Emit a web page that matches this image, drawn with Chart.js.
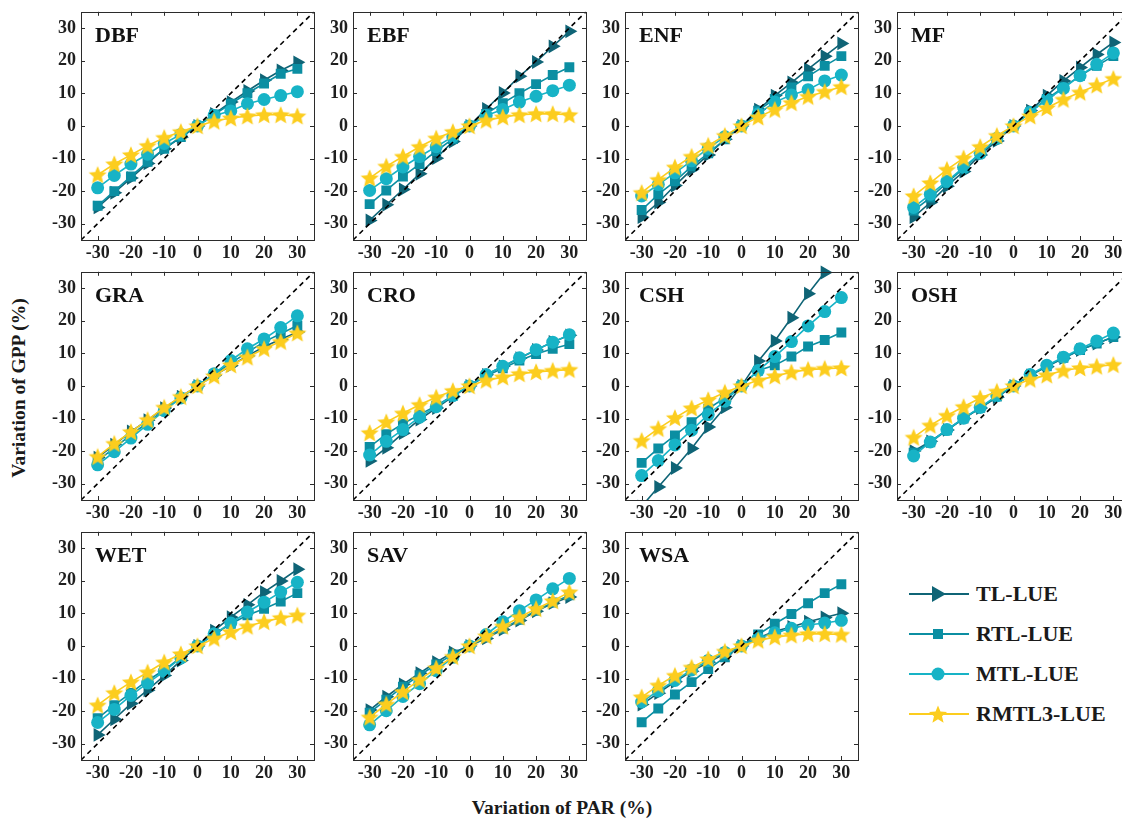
<!DOCTYPE html>
<html><head><meta charset="utf-8">
<script src="https://cdn.jsdelivr.net/npm/chart.js@4.4.1/dist/chart.umd.min.js"></script>
<style>
body{margin:0;background:#fff;width:1122px;height:827px;position:relative;overflow:hidden;font-family:"Liberation Serif","Times New Roman",serif;color:#1a1a1a;}
canvas.p{position:absolute;}
.ylab{position:absolute;left:19px;top:388px;transform:translate(-50%,-50%) rotate(-90deg);font-weight:bold;font-size:19.5px;white-space:nowrap;}
.xlab{position:absolute;left:562px;top:808px;transform:translate(-50%,-50%);font-weight:bold;font-size:19.5px;white-space:nowrap;}
.leg{position:absolute;left:908px;display:flex;align-items:center;font-weight:bold;font-size:22px;white-space:nowrap;}
.leg svg{margin-right:6px;}
</style></head>
<body>
<div class="ylab">Variation of GPP (%)</div>
<div class="xlab">Variation of PAR (%)</div>
<div id="legend"></div>
<script>
// ---- data ----
const xValues = [-30,-25,-20,-15,-10,-5,0,5,10,15,20,25,30];
const xTicks = [-30,-20,-10,0,10,20,30];
const yTicks = [-30,-20,-10,0,10,20,30];
const oneToOne = [-35,35];
const panelNames = ['DBF','EBF','ENF','MF','GRA','CRO','CSH','OSH','WET','SAV','WSA'];
const seriesNames = ['TL-LUE','RTL-LUE','MTL-LUE','RMTL3-LUE'];

const DBF_TL    = [-25,-20.5,-16,-11.5,-7,-3.5,0,3.7,7.3,10.7,14,17,19.5];
const DBF_RTL   = [-24.5,-20,-15.5,-11,-7,-3.4,0,3.5,6.8,10,13,16,17.5];
const DBF_MTL   = [-19,-15.2,-11.7,-8.7,-5.4,-2.6,0,3.2,4.6,6.8,8.1,9.3,10.5];
const DBF_RMTL3 = [-15,-11.7,-8.9,-6.1,-3.6,-1.8,0,1.4,2.4,3,3.4,3.4,3];

const EBF_TL    = [-29,-24.2,-19.5,-14.7,-9.9,-4.8,0,5.2,10.1,15.2,19.6,24.4,29];
const EBF_RTL   = [-24,-19.8,-15.5,-11.7,-7.7,-4,0,3.7,7,10,12.8,15.6,18];
const EBF_MTL   = [-19.8,-16.2,-12.6,-9.4,-6.4,-3.3,0,3.2,5,7.3,9.1,10.8,12.5];
const EBF_RMTL3 = [-16,-12.4,-9.4,-6.4,-3.8,-1.8,0,1.7,2.7,3.4,3.7,3.7,3.4];

const ENF_TL    = [-28,-23.5,-18.3,-13.4,-8.9,-4.1,0,5,9.3,13.3,17.4,21.4,25.3];
const ENF_RTL   = [-25.8,-21,-17,-12.4,-8.4,-4.1,0,4.7,8.3,11.8,15.2,18.4,21.4];
const ENF_MTL   = [-21.5,-18,-14.4,-10.7,-6.9,-3.3,0,3.7,7.3,9.5,11.1,13.8,15.6];
const ENF_RMTL3 = [-20.5,-16.5,-12.7,-9.4,-6,-3,0,2.7,5,7.1,9,10.5,12];

const MF_TL     = [-28,-23.5,-18.5,-14,-8.9,-4.6,0,4.7,9.3,13.8,17.9,21.9,25.6];
const MF_RTL    = [-26,-22,-17.5,-13,-8.4,-4,0,4.2,8.3,11.8,15.4,18.4,21.4];
const MF_MTL    = [-25,-21,-17,-12.7,-8.4,-3.8,0,4.2,8,11.5,15.4,18.9,22.4];
const MF_RMTL3  = [-21.5,-17.5,-13.4,-9.9,-6.4,-3,0,3,5.5,8.1,10.3,12.5,14.5];

const GRA_TL    = [-22,-18,-14,-10.5,-6.8,-3.3,0,3.2,6.2,9.2,12,14.3,16.5];
const GRA_RTL   = [-23,-19,-15,-11.3,-7.4,-3.6,0,3.6,7,10.3,13.5,16,18.5];
const GRA_MTL   = [-24.2,-20.2,-16,-11.8,-7.6,-3.7,0,3.7,7.8,11.4,14.4,17.9,21.5];
const GRA_RMTL3 = [-21.7,-17.7,-14.1,-10.4,-6.6,-3.3,0,3,6.4,8.8,11.4,13.6,16.2];

const CRO_TL    = [-23,-19,-14.5,-10.3,-6.8,-3.3,0,3.4,6,8.5,11,13.5,15.5];
const CRO_RTL   = [-18.7,-14.8,-11.6,-8.8,-6.1,-3,0,3,5.4,7.8,9.8,11.4,12.8];
const CRO_MTL   = [-21.2,-17,-13.4,-9.6,-6.4,-3,0,3.5,6,8.6,11.1,13.4,15.7];
const CRO_RMTL3 = [-14.4,-11.1,-8.4,-5.8,-3.5,-1.5,0,1.7,2.7,3.7,4.3,4.7,5];

const CSH_TL    = [-37,-31,-25.2,-19.2,-12.6,-6.6,0,7.6,13.8,20.9,28.3,34.8,41];
const CSH_RTL   = [-23.6,-19.2,-15.2,-11.1,-7,-3.7,0,4.7,6.3,9,12.1,14.1,16.4];
const CSH_MTL   = [-27.5,-22.9,-18.1,-13.6,-8.8,-4.7,0,4.7,9,13.6,18.4,22.8,27.1];
const CSH_RMTL3 = [-16.8,-13.1,-9.8,-6.8,-4.3,-2,0,1.7,3,4.2,5,5.3,5.5];

const OSH_TL    = [-20,-17,-13.5,-10,-6.8,-3.5,0,3.2,5.9,8.5,11,13,15];
const OSH_RTL   = [-20.5,-17.3,-13.6,-10,-6.7,-3.3,0,3.3,6,8.6,11,13,15];
const OSH_MTL   = [-21.5,-17.2,-13.4,-9.9,-6.6,-3,0,3.5,6.3,8.8,11.4,13.8,16.2];
const OSH_RMTL3 = [-15.8,-12.1,-9.1,-6.4,-3.7,-1.7,0,2,3.3,4.7,5.5,6,6.5];

const WET_TL    = [-27.3,-22.5,-17.7,-13.6,-9.1,-4.5,0,4.7,8.8,12.6,16.5,19.9,23.5];
const WET_RTL   = [-22.2,-18.2,-14.4,-10.6,-7.4,-3.5,0,3.5,6.8,9.4,11.4,13.6,16.2];
const WET_MTL   = [-23.5,-19.5,-15.2,-11.4,-7.8,-3.7,0,3.7,7,10.4,13.4,16.5,19.5];
const WET_RMTL3 = [-18.2,-14.4,-11.1,-8.1,-5,-2.5,0,2.3,4.3,6,7.4,8.6,9.4];

const SAV_TL    = [-19.7,-15.6,-11.8,-8.4,-5,-2,0,2.3,5,7.8,10.6,13.1,15];
const SAV_RTL   = [-20.5,-16.5,-12.5,-9,-5.7,-2.6,0,2.6,5.3,8,10.8,13.3,15.5];
const SAV_MTL   = [-24.2,-19.9,-15.5,-11.6,-7.6,-3.5,0,3.5,7.4,10.8,14.1,17.5,20.7];
const SAV_RMTL3 = [-21.9,-17.9,-14.1,-10.4,-6.8,-3.3,0,3,6,8.8,11.4,13.8,16.5];

const WSA_TL    = [-18,-14.5,-11,-7.8,-5,-2.4,0,2.4,4.5,5.8,7.4,8.7,10];
const WSA_RTL   = [-23.4,-19.2,-14.9,-11.1,-7.1,-3.5,0,3.5,6.8,9.8,13.1,16.2,18.9];
const WSA_MTL   = [-17.2,-13.8,-10.6,-7.4,-4.5,-2,0,2.3,4,5.4,6.4,7,7.8];
const WSA_RMTL3 = [-15.7,-12.1,-9.1,-6.6,-4,-1.7,0,1.7,2.7,3.3,3.7,3.7,3.5];

const table = {
  DBF:[DBF_TL,DBF_RTL,DBF_MTL,DBF_RMTL3], EBF:[EBF_TL,EBF_RTL,EBF_MTL,EBF_RMTL3],
  ENF:[ENF_TL,ENF_RTL,ENF_MTL,ENF_RMTL3], MF:[MF_TL,MF_RTL,MF_MTL,MF_RMTL3],
  GRA:[GRA_TL,GRA_RTL,GRA_MTL,GRA_RMTL3], CRO:[CRO_TL,CRO_RTL,CRO_MTL,CRO_RMTL3],
  CSH:[CSH_TL,CSH_RTL,CSH_MTL,CSH_RMTL3], OSH:[OSH_TL,OSH_RTL,OSH_MTL,OSH_RMTL3],
  WET:[WET_TL,WET_RTL,WET_MTL,WET_RMTL3], SAV:[SAV_TL,SAV_RTL,SAV_MTL,SAV_RMTL3],
  WSA:[WSA_TL,WSA_RTL,WSA_MTL,WSA_RMTL3]
};

// ---- styles ----
const colors = ['#0f6476','#0b8ea2','#17b3c6','#fccd1e'];
const FONT = '"Liberation Serif", "Times New Roman", serif';
function makeStar(size, color){
  const c = document.createElement('canvas'); c.width = size; c.height = size;
  const g = c.getContext('2d'); const R = size/2 - 0.5, r = R*0.45, cx = size/2, cy = size/2 + 0.8;
  g.beginPath();
  for (let i=0;i<10;i++){ const a = -Math.PI/2 + i*Math.PI/5; const rr = i%2?r:R;
    const px = cx + rr*Math.cos(a), py = cy + rr*Math.sin(a); i?g.lineTo(px,py):g.moveTo(px,py); }
  g.closePath(); g.fillStyle = color; g.fill(); return c;
}
const starImg = makeStar(20, colors[3]);
const pointStyles = ['triangle','rect','circle', starImg];
const pointRadii = [8,7,6.5,10];
const pointRotations = [90,0,0,0];

const colLeft = [81,353,625,897];
const rowTop = [8,268,528];
const PW = 233, PH = 232, YW = 45, XH = 24, PT = 12, PR = 12;

const framePlugin = {
  id:'frame',
  afterDraw(chart){
    const {ctx, chartArea:a, scales} = chart;
    ctx.save();
    ctx.strokeStyle = '#2b2b2b'; ctx.lineWidth = 1;
    ctx.strokeRect(Math.round(a.left)+0.5, Math.round(a.top)+0.5, Math.round(a.right-a.left), Math.round(a.bottom-a.top));
    const L = 4;
    ctx.beginPath();
    xTicks.forEach(v=>{ const x = Math.round(scales.x.getPixelForValue(v))+0.5;
      ctx.moveTo(x,a.bottom); ctx.lineTo(x,a.bottom-L); ctx.moveTo(x,a.top); ctx.lineTo(x,a.top+L); });
    yTicks.forEach(v=>{ const y = Math.round(scales.y.getPixelForValue(v))+0.5;
      ctx.moveTo(a.left,y); ctx.lineTo(a.left+L,y); ctx.moveTo(a.right,y); ctx.lineTo(a.right-L,y); });
    ctx.stroke();
    ctx.fillStyle = '#111'; ctx.font = 'bold 22px ' + FONT; ctx.textBaseline='alphabetic';
    ctx.fillText(chart.options.plugins.frame.title, a.left+14, a.top+30);
    ctx.restore();
  }
};

function makePanel(idx){
  const name = panelNames[idx];
  const col = idx%4, row = Math.floor(idx/4);
  const cv = document.createElement('canvas');
  cv.className = 'p'; cv.width = YW+PW+PR; cv.height = PT+PH+XH;
  cv.style.left = (colLeft[col]-YW)+'px'; cv.style.top = (rowTop[row]-PT)+'px';
  document.body.appendChild(cv);
  const datasets = table[name].map((vals,s)=>({
    label: seriesNames[s],
    data: xValues.map((x,i)=>({x, y: vals[i]})),
    borderColor: colors[s], backgroundColor: colors[s], borderWidth: 1.6,
    pointStyle: pointStyles[s], pointRadius: pointRadii[s], pointRotation: pointRotations[s],
    pointBorderWidth: 0, tension: 0, order: 4-s,
    clip: {left:0, right:0, bottom:0, top:10},
    segment: { borderColor: c => (c.p0.parsed.y>35 || c.p1.parsed.y>35) ? 'rgba(0,0,0,0)' : undefined }
  }));
  datasets.push({
    label:'1:1', data: oneToOne.map(v=>({x:v,y:v})), borderColor:'#000', borderWidth:1.6,
    borderDash:[5,4], pointRadius:0, order:0, clip:0
  });
  const tickFont = {family:FONT, size:18, weight:'bold'};
  new Chart(cv, {
    type:'line',
    data:{datasets},
    options:{
      responsive:false, animation:false, devicePixelRatio:1,
      layout:{padding:{top:PT,right:PR,left:0,bottom:0}},
      plugins:{legend:{display:false}, tooltip:{enabled:false}, frame:{title:name}},
      scales:{
        x:{type:'linear', min:-35, max:35,
           afterBuildTicks: s => { s.ticks = xTicks.map(v=>({value:v})); },
           afterFit: s => { s.height = XH; },
           grid:{display:false, drawTicks:false}, border:{display:false},
           ticks:{padding:3, font:tickFont, color:'#1e1e1e', autoSkip:false, maxRotation:0}},
        y:{type:'linear', min:-35, max:35,
           afterBuildTicks: s => { s.ticks = yTicks.map(v=>({value:v})); },
           afterFit: s => { s.width = YW; },
           grid:{display:false, drawTicks:false}, border:{display:false},
           ticks:{padding:5, font:tickFont, color:'#1e1e1e', autoSkip:false}}
      }
    },
    plugins:[framePlugin]
  });
}
panelNames.forEach((n,i)=>makePanel(i));

// ---- legend ----
const legTops = [593,633,673,713];
function markerSvg(s){
  const c = colors[s];
  let m = '';
  if (s===0) m = `<polygon points="24,3 38,11 24,19" fill="${c}"/>`;
  if (s===1) m = `<rect x="25" y="6" width="10" height="10" fill="${c}"/>`;
  if (s===2) m = `<circle cx="30" cy="11" r="6.5" fill="${c}"/>`;
  if (s===3) { let p=[]; for(let i=0;i<10;i++){const a=-Math.PI/2+i*Math.PI/5;const rr=i%2?4.2:9.5;p.push((30+rr*Math.cos(a)).toFixed(2)+','+(12+rr*Math.sin(a)).toFixed(2));} m=`<polygon points="${p.join(' ')}" fill="${c}"/>`; }
  return `<svg width="62" height="22"><line x1="1" y1="11" x2="61" y2="11" stroke="${c}" stroke-width="1.8"/>${m}</svg>`;
}
const legend = document.getElementById('legend');
seriesNames.forEach((n,s)=>{
  const d = document.createElement('div'); d.className='leg';
  d.style.top = (legTops[s]-12)+'px';
  d.innerHTML = markerSvg(s)+'<span>'+n+'</span>';
  legend.appendChild(d);
});
</script>
</body></html>
